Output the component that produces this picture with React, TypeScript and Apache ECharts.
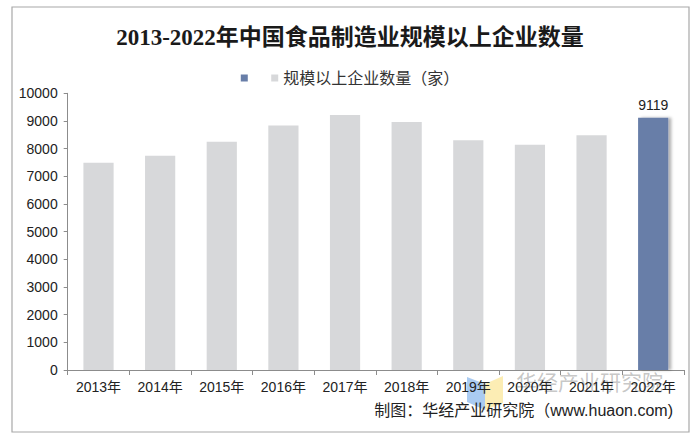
import React, { useEffect, useRef } from "react";
import * as echarts from "echarts";

const categories = ["2013年", "2014年", "2015年", "2016年", "2017年", "2018年", "2019年", "2020年", "2021年", "2022年"];
const values = [7490, 7745, 8250, 8840, 9215, 8960, 8300, 8140, 8480, 9119];
const seriesName = "规模以上企业数量（家）";
const highlightName = "\u00a0";
const yTicks = { min: 0, max: 10000, interval: 1000 };

const GRAY = "#d7d8da";
const BLUE = "#687ea8";
const FONT = "'Liberation Sans', Arial, 'Noto Sans CJK SC', sans-serif";

export default function App() {
  const ref = useRef<HTMLDivElement>(null);
  useEffect(() => {
    if (!ref.current) return;
    const chart = echarts.init(ref.current, undefined, { renderer: "svg" });
    const last = values.length - 1;
    chart.setOption({
      animation: false,
      backgroundColor: "#ffffff",
      title: {
        text: "2013-2022年中国食品制造业规模以上企业数量",
        left: "center",
        top: 21,
        textStyle: {
          fontFamily: "'Liberation Serif', 'Noto Sans CJK SC', serif",
          fontSize: 23,
          fontWeight: "bold",
          color: "#1a1a1a",
        },
      },
      legend: {
        top: 65,
        left: "center",
        itemWidth: 7,
        itemHeight: 7,
        itemGap: 14,
        icon: "rect",
        textStyle: { fontFamily: FONT, fontSize: 16, color: "#333" },
        data: [highlightName, seriesName],
      },
      grid: { left: 67.7, right: 16, top: 93.3, bottom: 70 },
      xAxis: {
        type: "category",
        data: categories,
        axisLine: { lineStyle: { color: "#8c8c8c" } },
        axisTick: { show: true, length: 5, lineStyle: { color: "#8c8c8c" } },
        axisLabel: { fontFamily: FONT, fontSize: 14, color: "#222", margin: 10 },
      },
      yAxis: {
        type: "value",
        min: yTicks.min,
        max: yTicks.max,
        interval: yTicks.interval,
        axisLine: { show: true, lineStyle: { color: "#8c8c8c" } },
        axisTick: { show: true, length: 4, lineStyle: { color: "#8c8c8c" } },
        splitLine: { show: false },
        axisLabel: {
          fontFamily: FONT,
          fontSize: 14,
          color: "#222",
          margin: 10,
          formatter: (v: number) => String(v),
        },
      },
      series: [
        {
          name: highlightName,
          type: "bar",
          stack: "a",
          data: values.map(() => "-"),
          itemStyle: { color: BLUE },
        },
        {
          name: seriesName,
          type: "bar",
          stack: "a",
          barWidth: "49%",
          data: values.map((v, i) =>
            i === last
              ? {
                  value: v,
                  itemStyle: { color: BLUE, shadowColor: "rgba(0,0,0,0.3)", shadowBlur: 3, shadowOffsetX: 3 },
                  label: {
                    show: true,
                    position: "top",
                    distance: 6,
                    fontFamily: FONT,
                    fontSize: 14,
                    color: "#222",
                  },
                }
              : v
          ),
          itemStyle: { color: GRAY },
        },
      ],
      graphic: [
        {
          type: "rect",
          shape: { x: 12, y: 7, width: 677, height: 425 },
          style: { fill: "none", stroke: "#a8a8a8", lineWidth: 1.2 },
          silent: true,
        },
        {
          type: "polygon",
          shape: { points: [[467, 377], [485, 384], [485, 410], [467, 402]] },
          style: { fill: "rgba(100,160,230,0.55)" },
          silent: true,
        },
        {
          type: "polygon",
          shape: { points: [[485, 384], [503, 376], [503, 403], [485, 410]] },
          style: { fill: "rgba(250,225,130,0.6)" },
          silent: true,
        },
        {
          type: "text",
          left: 516,
          top: 370,
          style: {
            text: "华经产业研究院",
            fontFamily: "'Noto Sans CJK SC', sans-serif",
            fontSize: 21,
            fill: "rgba(110,110,110,0.4)",
          },
          silent: true,
        },
        {
          type: "text",
          right: 27,
          top: 402,
          style: {
            text: "制图：华经产业研究院（www.huaon.com)",
            fontFamily: FONT,
            fontSize: 16,
            fill: "#222",
          },
          silent: true,
        },
      ],
    });
    return () => chart.dispose();
  }, []);
  return <div ref={ref} style={{ position: "fixed", left: 0, top: 0, width: 700, height: 440 }} />;
}
